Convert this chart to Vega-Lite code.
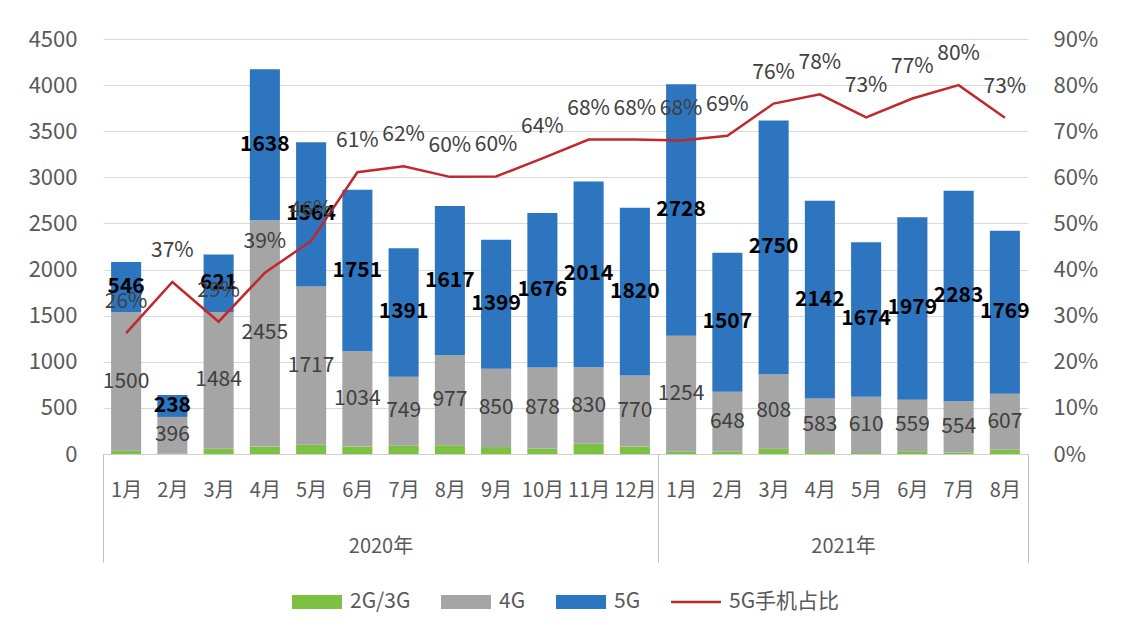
{
  "$schema": "https://vega.github.io/schema/vega-lite/v6.json",
  "autosize": "none",
  "width": 925,
  "height": 415,
  "padding": {"left": 103, "top": 39, "right": 98, "bottom": 178},
  "background": "white",
  "config": {
    "font": "Noto Sans CJK SC",
    "view": {"stroke": null},
    "legend": {"layout": {"bottom": {"anchor": "middle"}}}
  },
  "datasets": {
    "sales": [
      {"id": "2020-01", "type": "2G/3G", "value": 36}, {"id": "2020-01", "type": "4G", "value": 1500}, {"id": "2020-01", "type": "5G", "value": 546},
      {"id": "2020-02", "type": "2G/3G", "value": 6}, {"id": "2020-02", "type": "4G", "value": 396}, {"id": "2020-02", "type": "5G", "value": 238},
      {"id": "2020-03", "type": "2G/3G", "value": 57}, {"id": "2020-03", "type": "4G", "value": 1484}, {"id": "2020-03", "type": "5G", "value": 621},
      {"id": "2020-04", "type": "2G/3G", "value": 80}, {"id": "2020-04", "type": "4G", "value": 2455}, {"id": "2020-04", "type": "5G", "value": 1638},
      {"id": "2020-05", "type": "2G/3G", "value": 100}, {"id": "2020-05", "type": "4G", "value": 1717}, {"id": "2020-05", "type": "5G", "value": 1564},
      {"id": "2020-06", "type": "2G/3G", "value": 80}, {"id": "2020-06", "type": "4G", "value": 1034}, {"id": "2020-06", "type": "5G", "value": 1751},
      {"id": "2020-07", "type": "2G/3G", "value": 90}, {"id": "2020-07", "type": "4G", "value": 749}, {"id": "2020-07", "type": "5G", "value": 1391},
      {"id": "2020-08", "type": "2G/3G", "value": 95}, {"id": "2020-08", "type": "4G", "value": 977}, {"id": "2020-08", "type": "5G", "value": 1617},
      {"id": "2020-09", "type": "2G/3G", "value": 75}, {"id": "2020-09", "type": "4G", "value": 850}, {"id": "2020-09", "type": "5G", "value": 1399},
      {"id": "2020-10", "type": "2G/3G", "value": 60}, {"id": "2020-10", "type": "4G", "value": 878}, {"id": "2020-10", "type": "5G", "value": 1676},
      {"id": "2020-11", "type": "2G/3G", "value": 110}, {"id": "2020-11", "type": "4G", "value": 830}, {"id": "2020-11", "type": "5G", "value": 2014},
      {"id": "2020-12", "type": "2G/3G", "value": 80}, {"id": "2020-12", "type": "4G", "value": 770}, {"id": "2020-12", "type": "5G", "value": 1820},
      {"id": "2021-01", "type": "2G/3G", "value": 28}, {"id": "2021-01", "type": "4G", "value": 1254}, {"id": "2021-01", "type": "5G", "value": 2728},
      {"id": "2021-02", "type": "2G/3G", "value": 28}, {"id": "2021-02", "type": "4G", "value": 648}, {"id": "2021-02", "type": "5G", "value": 1507},
      {"id": "2021-03", "type": "2G/3G", "value": 58}, {"id": "2021-03", "type": "4G", "value": 808}, {"id": "2021-03", "type": "5G", "value": 2750},
      {"id": "2021-04", "type": "2G/3G", "value": 20}, {"id": "2021-04", "type": "4G", "value": 583}, {"id": "2021-04", "type": "5G", "value": 2142},
      {"id": "2021-05", "type": "2G/3G", "value": 12}, {"id": "2021-05", "type": "4G", "value": 610}, {"id": "2021-05", "type": "5G", "value": 1674},
      {"id": "2021-06", "type": "2G/3G", "value": 30}, {"id": "2021-06", "type": "4G", "value": 559}, {"id": "2021-06", "type": "5G", "value": 1979},
      {"id": "2021-07", "type": "2G/3G", "value": 17}, {"id": "2021-07", "type": "4G", "value": 554}, {"id": "2021-07", "type": "5G", "value": 2283},
      {"id": "2021-08", "type": "2G/3G", "value": 45}, {"id": "2021-08", "type": "4G", "value": 607}, {"id": "2021-08", "type": "5G", "value": 1769}
    ],
    "share": [
      {"id": "2020-01", "share": 0.262}, {"id": "2020-02", "share": 0.373}, {"id": "2020-03", "share": 0.287},
      {"id": "2020-04", "share": 0.393}, {"id": "2020-05", "share": 0.462}, {"id": "2020-06", "share": 0.611},
      {"id": "2020-07", "share": 0.624}, {"id": "2020-08", "share": 0.601}, {"id": "2020-09", "share": 0.602},
      {"id": "2020-10", "share": 0.641}, {"id": "2020-11", "share": 0.682}, {"id": "2020-12", "share": 0.682},
      {"id": "2021-01", "share": 0.680}, {"id": "2021-02", "share": 0.690}, {"id": "2021-03", "share": 0.760},
      {"id": "2021-04", "share": 0.780}, {"id": "2021-05", "share": 0.730}, {"id": "2021-06", "share": 0.771},
      {"id": "2021-07", "share": 0.800}, {"id": "2021-08", "share": 0.729}
    ]
  },
  "layer": [
    {
      "data": {"name": "sales"},
      "mark": {"type": "bar"},
      "encoding": {
        "x": {
          "field": "id", "type": "nominal",
          "scale": {"paddingInner": 0.35, "paddingOuter": 0.175},
          "axis": {
            "orient": "bottom", "title": null, "labelAngle": 0,
            "labelExpr": "datum.value ? toNumber(split(datum.value, '-')[1]) + '月' : ''",
            "labelFontSize": 20, "labelColor": "#595959",
            "labelOverlap": false, "labelBound": false,
            "domainColor": "#cfcfcf",
            "bandPosition": 1, "tickOffset": 8.09, "labelOffset": -8.09,
            "tickSize": 108, "tickColor": "#bfbfbf",
            "tickOpacity": {"condition": {"test": "datum.value === '2020-12' || datum.value === '2021-08'", "value": 1}, "value": 0},
            "labelPadding": -82, "grid": false
          }
        },
        "y": {
          "field": "value", "type": "quantitative", "stack": "zero",
          "scale": {"domain": [0, 4500]},
          "axis": {
            "orient": "left", "title": null, "format": "d",
            "values": [0, 500, 1000, 1500, 2000, 2500, 3000, 3500, 4000, 4500],
            "grid": true, "gridColor": "#d9d9d9", "domain": false, "ticks": false,
            "labelPadding": 26, "labelFontSize": 22, "labelColor": "#595959"
          }
        },
        "order": {"field": "type", "sort": "ascending"},
        "color": {
          "field": "type", "type": "nominal",
          "scale": {"domain": ["2G/3G", "4G", "5G", "5G手机占比"], "range": ["#7DC142", "#A5A5A5", "#2E75C0", "#C0282D"]},
          "legend": {
            "orient": "bottom", "direction": "horizontal", "title": null,
            "symbolType": "M-1,-0.28H1V0.28H-1Z", "symbolSize": 2500, "symbolStrokeWidth": 0,
            "labelFontSize": 21, "labelColor": "#595959",
            "labelOffset": 8, "columnPadding": 30, "offset": 14,
            "encode": {
              "symbols": {
                "update": {
                  "shape": {"signal": "datum.value === '5G手机占比' ? 'M-1,-0.05H1V0.05H-1Z' : 'M-1,-0.28H1V0.28H-1Z'"},
                  "fill": {"scale": "color", "field": "value"},
                  "strokeWidth": {"value": 0}
                }
              }
            }
          }
        }
      }
    },
    {
      "data": {"name": "sales"},
      "mark": {"type": "text", "fontSize": 21, "color": "#404040"},
      "encoding": {
        "x": {"field": "id", "type": "nominal", "axis": null},
        "y": {"field": "value", "type": "quantitative", "stack": "zero", "bandPosition": 0.5, "scale": {"domain": [0, 4500]}, "axis": null},
        "order": {"field": "type", "sort": "ascending"},
        "detail": {"field": "type"},
        "text": {"field": "value", "type": "quantitative"},
        "opacity": {"condition": {"test": "datum.type === '4G'", "value": 1}, "value": 0}
      }
    },
    {
      "data": {"name": "sales"},
      "mark": {"type": "text", "fontSize": 21, "fontWeight": "bold", "color": "#000000"},
      "encoding": {
        "x": {"field": "id", "type": "nominal", "axis": null},
        "y": {"field": "value", "type": "quantitative", "stack": "zero", "bandPosition": 0.5, "scale": {"domain": [0, 4500]}, "axis": null},
        "order": {"field": "type", "sort": "ascending"},
        "detail": {"field": "type"},
        "text": {"field": "value", "type": "quantitative"},
        "opacity": {"condition": {"test": "datum.type === '5G'", "value": 1}, "value": 0}
      }
    },
    {
      "data": {"name": "share"},
      "mark": {"type": "line", "strokeWidth": 2.5},
      "encoding": {
        "x": {
          "field": "id", "type": "nominal",
          "axis": {
            "orient": "bottom", "title": null, "labelAngle": 0,
            "values": ["2020-01", "2020-06", "2021-04"],
            "labelExpr": "datum.value === '2020-06' ? '2020年' : datum.value === '2021-04' ? '2021年' : ''",
            "bandPosition": 0, "tickOffset": -8.09, "labelOffset": 31.215,
            "tickSize": 108, "tickColor": "#bfbfbf",
            "tickOpacity": {"condition": {"test": "datum.value === '2020-01'", "value": 1}, "value": 0},
            "domain": false, "grid": false,
            "labelPadding": -26, "labelFontSize": 20, "labelColor": "#595959"
          }
        },
        "y": {
          "field": "share", "type": "quantitative",
          "scale": {"domain": [0, 0.9]},
          "axis": {
            "orient": "right", "title": null, "format": ".0%",
            "values": [0, 0.1, 0.2, 0.3, 0.4, 0.5, 0.6, 0.7, 0.8, 0.9],
            "grid": false, "domain": false, "ticks": false,
            "labelPadding": 25, "labelFontSize": 22, "labelColor": "#595959"
          }
        },
        "color": {"datum": "5G手机占比", "legend": null}
      }
    },
    {
      "data": {"name": "share"},
      "mark": {"type": "text", "dy": -31, "fontSize": 21, "color": "#404040"},
      "encoding": {
        "x": {"field": "id", "type": "nominal", "axis": null},
        "y": {"field": "share", "type": "quantitative", "scale": {"domain": [0, 0.9]}, "axis": null},
        "text": {"field": "share", "type": "quantitative", "format": ".0%"}
      }
    }
  ],
  "resolve": {"scale": {"y": "independent"}, "axis": {"x": "independent"}}
}
